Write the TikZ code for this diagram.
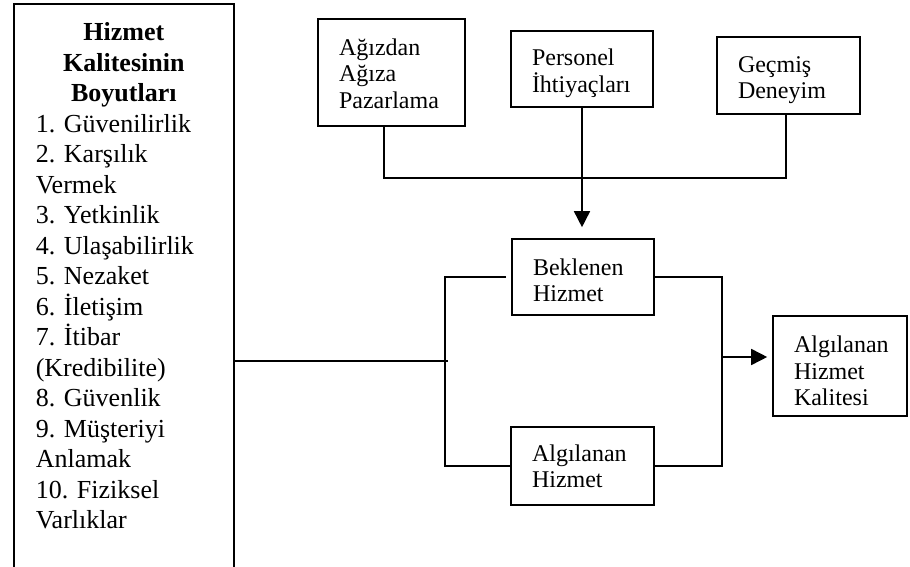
\documentclass[tikz,border=0pt]{standalone}
\usepackage{fontspec}
\setmainfont{Liberation Serif}
\usetikzlibrary{arrows.meta}

\begin{document}
\frenchspacing
\begin{tikzpicture}[x=1pt, y=-1pt, line width=1.6pt,
    kutu/.style={draw, align=left, inner xsep=21pt, inner ysep=0pt, text height=26pt, text depth=32pt,
                 font=\fontsize{24}{26.5}\selectfont},
    kutuuc/.style={kutu, text height=24pt, text depth=58.5pt},
    ok/.style={-{Triangle[length=16pt,width=16pt]}}]
    \clip (0,0) rectangle (910,567);

    % boyutlar kutusu (alt kenari sayfa disinda)
    \node[draw, anchor=north west, align=left, text width=176pt, inner xsep=22pt, inner ysep=19pt,
          font=\fontsize{26}{30.5}\selectfont] (boyut) at (13,3)
        {{\centering\bfseries Hizmet\\Kalitesinin\\Boyutları\par}
         1. Güvenilirlik\\2. Karşılık\\Vermek\\3. Yetkinlik\\4. Ulaşabilirlik\\5. Nezaket\\
         6. İletişim\\7. İtibar\\(Kredibilite)\\8. Güvenlik\\9. Müşteriyi\\Anlamak\\
         10. Fiziksel\\Varlıklar\par\rule{0pt}{80pt}};

    \node[kutuuc, text width=105pt, minimum height=107pt] (agiz) at (391.5,72.5) {Ağızdan\\Ağıza\\Pazarlama};
    \node[kutu, text width=100pt, minimum height=76pt] (personel) at (582,69) {Personel\\İhtiyaçları};
    \node[kutu, text width=101pt, minimum height=77pt] (gecmis) at (788.5,75.5) {Geçmiş\\Deneyim};

    \node[kutu, text width=100pt, minimum height=76pt, text height=26pt, text depth=30pt] (beklenen) at (583,277) {Beklenen\\Hizmet};
    \node[kutu, text width=101pt, minimum height=78pt, text height=22pt] (algilanan) at (582.5,466) {Algılanan\\Hizmet};
    \node[kutuuc, text width=92pt, minimum height=100pt, text height=21pt, text depth=48pt] (kalite) at (840,366) {Algılanan\\Hizmet\\Kalitesi};

    \coordinate (birles) at (582,178);
    \coordinate (solk) at (445,361);
    \coordinate (sagk) at (722,357);

    \draw ([xshift=-7.5pt]agiz.south) |- ([xshift=-2.5pt]gecmis.south |- birles) -- ([xshift=-2.5pt]gecmis.south);
    \draw[ok, shorten >=11pt] (personel.south) -- (personel.south |- beklenen.north);

    \draw (boyut.east |- solk) -- ([xshift=3pt]solk);
    \draw[shorten <=5pt] (beklenen.west) -| (solk) |- (algilanan.west);
    \draw (beklenen.east) -| (sagk) |- (algilanan.east);
    \draw[ok, shorten >=5pt] (sagk) -- (kalite.west |- sagk);
\end{tikzpicture}
\end{document}
